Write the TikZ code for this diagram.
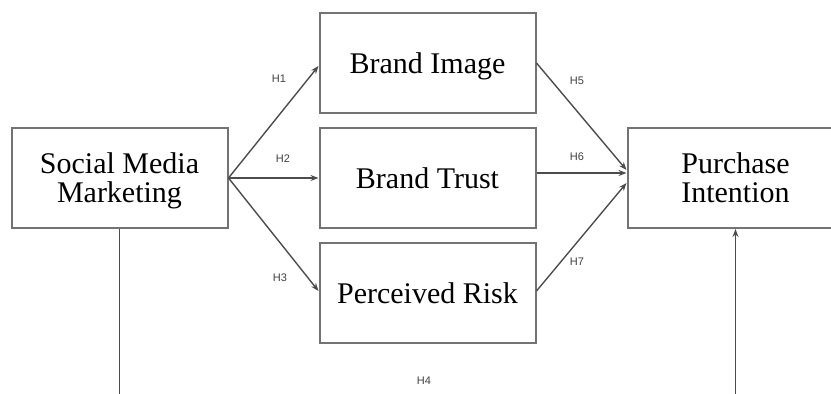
\documentclass[tikz,border=0pt]{standalone}
\usepackage{fontspec}
\setmainfont{Liberation Serif}
\newfontfamily\hypfont{Liberation Sans}
\usetikzlibrary{arrows.meta,positioning}
\tikzset{
	construct/.style={
		rectangle,
		draw=black!55, line width=1pt,
		minimum width=108pt,
		minimum height=50pt,
		inner sep=2pt,
		text depth=0pt,
		align=center,
		font=\fontsize{15}{14.5}\selectfont,
	},
	hyp/.style={
		font=\hypfont\fontsize{5.5}{6}\selectfont,
		text=black!75,
		inner sep=0pt,
	},
	link/.style={
		draw=black!70, line width=0.7pt,
		-{Stealth[length=4pt,width=3pt]},
	},
}

\begin{document}
\begin{tikzpicture}[x=0.5pt, y=-0.5pt, node distance=6.5pt and 45pt]
\useasboundingbox (0,0) rectangle (831,394);
\clip (0,0) rectangle (831,394);
\node	(trust)		[construct]	at (427.5,178)	{Brand Trust};
\node	(image)		[construct]	[above=of trust]	{Brand Image};
\node	(risk)		[construct]	[below=of trust]	{Perceived Risk};
\node	(smm)		[construct]	[left=of trust]	{Social Media\\Marketing};
\node	(intent)	[construct]	[right=of trust]	{Purchase\\Intention};

\node	(h1)	[hyp]	at (279,79)	{H1};
\node	(h2)	[hyp]	at (283,159)	{H2};
\node	(h3)	[hyp]	at (280,278)	{H3};
\node	(h4)	[hyp]	at (424,381)	{H4};
\node	(h5)	[hyp]	at (577,81)	{H5};
\node	(h6)	[hyp]	at (577,157)	{H6};
\node	(h7)	[hyp]	at (577,262)	{H7};

\draw[link] (smm.east) -- ([yshift=-1.5pt]image.west);
\draw[link] (smm.east) -- (trust.west);
\draw[link] (smm.east) -- ([yshift=1pt]risk.west);
\draw[link] (image.east) -- ([yshift=4pt]intent.west);
\draw[link] ([yshift=2.5pt]trust.east) -- ([yshift=2.5pt]intent.west);
\draw[link] ([yshift=1pt]risk.east) -- ([yshift=-2.5pt]intent.west);
\draw[link] (smm.south) -- ++(0,200) -| (intent.south);

\end{tikzpicture}
\end{document}
